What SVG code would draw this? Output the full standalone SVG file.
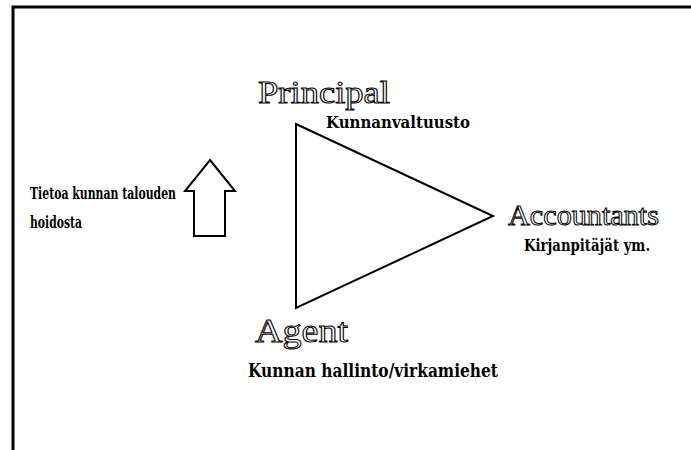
<svg xmlns="http://www.w3.org/2000/svg" width="691" height="450" viewBox="0 0 691 450">
<style>
.eng{font-family:"Liberation Serif","DejaVu Serif",serif;fill:#fff;stroke:#000;stroke-width:1}
.sub{font-family:"DejaVu Serif","Liberation Serif",serif;font-weight:bold;fill:#000}
.shape{fill:#fff;stroke:#000;stroke-width:2;stroke-linejoin:miter}
</style>
<rect width="691" height="450" fill="#fff"/>
<path d="M13,450 V7 H691" fill="none" stroke="#000" stroke-width="3"/>
<g id="triangle"><polygon class="shape" points="296,124 493,216 296,308"/></g>
<g id="arrow"><polygon class="shape" points="210,160 235,191 225,191 225,236 194,236 194,191 185,191" stroke-width="1.8"/></g>
<g id="principal">
<text class="eng" x="258" y="103" font-size="31" textLength="132" lengthAdjust="spacingAndGlyphs">Principal</text>
<text class="sub" x="326" y="128" font-size="16" textLength="144" lengthAdjust="spacingAndGlyphs">Kunnanvaltuusto</text>
</g>
<g id="accountants">
<text class="eng" x="508" y="225" font-size="29" textLength="151" lengthAdjust="spacingAndGlyphs">Accountants</text>
<text class="sub" x="524" y="251" font-size="17" textLength="126" lengthAdjust="spacingAndGlyphs">Kirjanpitäjät ym.</text>
</g>
<g id="agent">
<text class="eng" x="255" y="342" font-size="33" textLength="93" lengthAdjust="spacingAndGlyphs">Agent</text>
<text class="sub" x="248" y="377" font-size="18" textLength="250" lengthAdjust="spacingAndGlyphs">Kunnan hallinto/virkamiehet</text>
</g>
<g id="info">
<text class="sub" x="30" y="199" font-size="17" textLength="146" lengthAdjust="spacingAndGlyphs">Tietoa kunnan talouden</text>
<text class="sub" x="30" y="228" font-size="17" textLength="52" lengthAdjust="spacingAndGlyphs">hoidosta</text>
</g>
</svg>
